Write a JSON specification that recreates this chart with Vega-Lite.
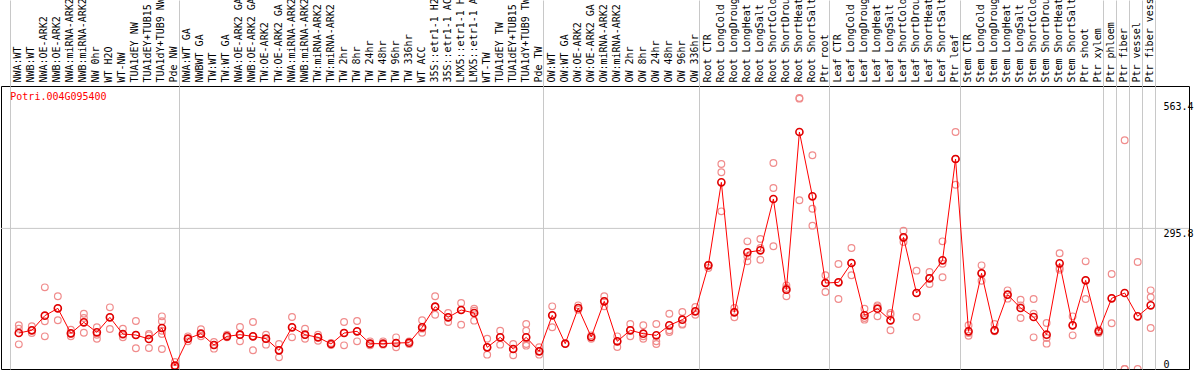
{
  "$schema": "https://vega.github.io/schema/vega-lite/v6.json",
  "width": 1188,
  "height": 283,
  "autosize": {"type": "none"},
  "padding": {"left": 1, "top": 86, "right": 5, "bottom": 1},
  "background": "white",
  "config": {"view": {"stroke": "black", "strokeWidth": 1}},
  "resolve": {"axis": {"x": "independent", "y": "independent"}},
  "datasets": {
    "means": [
      {"s": "NWA:WT", "v": 75.7}, {"s": "NWB:WT", "v": 81.4}, {"s": "NWA:OE-ARK2", "v": 112.2}, {"s": "NWB:OE-ARK2", "v": 127.6},
      {"s": "NWA:miRNA-ARK2", "v": 75.0}, {"s": "NWB:miRNA-ARK2", "v": 98.2}, {"s": "NW 0hr", "v": 77.1}, {"s": "WT H2O", "v": 108.7},
      {"s": "WT-NW", "v": 73.6}, {"s": "TUA1dEY NW", "v": 71.5}, {"s": "TUA1dEY+TUB15 NW", "v": 63.1}, {"s": "TUA1dY+TUB9 NW", "v": 86.3},
      {"s": "Pde NW", "v": 7.0}, {"s": "NWA:WT GA", "v": 63.8}, {"s": "NWBWT GA", "v": 74.3}, {"s": "TW:WT", "v": 50.5},
      {"s": "TW:WT GA", "v": 68.7}, {"s": "NWA:OE-ARK2 GA", "v": 72.2}, {"s": "NWB:OE-ARK2 GA", "v": 68.7}, {"s": "TW:OE-ARK2", "v": 63.8},
      {"s": "TW:OE-ARK2 GA", "v": 39.3}, {"s": "NWA:miRNA-ARK2 GA", "v": 87.7}, {"s": "NWB:miRNA-ARK2 GA", "v": 72.2}, {"s": "TW:miRNA-ARK2", "v": 66.6},
      {"s": "TW:miRNA-ARK2 GA", "v": 52.6}, {"s": "TW 2hr", "v": 75.7}, {"s": "TW 8hr", "v": 79.2}, {"s": "TW 24hr", "v": 53.3},
      {"s": "TW 48hr", "v": 53.3}, {"s": "TW 96hr", "v": 54.7}, {"s": "TW 336hr", "v": 55.4}, {"s": "WT ACC", "v": 87.7},
      {"s": "35S::etr1-1 H2O", "v": 131.1}, {"s": "35S::etr1-1 ACC", "v": 108.7}, {"s": "LMX5::etr1-1 H2O", "v": 124.1}, {"s": "LMX5::etr1-1 ACC", "v": 117.8},
      {"s": "WT-TW", "v": 45.6}, {"s": "TUA1dEY TW", "v": 66.6}, {"s": "TUA1dEY+TUB15 TW", "v": 42.1}, {"s": "TUA1dY+TUB9 TW", "v": 66.6},
      {"s": "Pde TW", "v": 37.2}, {"s": "OW:WT", "v": 112.9}, {"s": "OW:WT GA", "v": 53.3}, {"s": "OW:OE-ARK2", "v": 128.3},
      {"s": "OW:OE-ARK2 GA", "v": 67.3}, {"s": "OW:miRNA-ARK2", "v": 142.4}, {"s": "OW:miRNA-ARK2 GA", "v": 58.2}, {"s": "OW 2hr", "v": 81.4},
      {"s": "OW 8hr", "v": 74.3}, {"s": "OW 24hr", "v": 70.8}, {"s": "OW 48hr", "v": 91.9}, {"s": "OW 96hr", "v": 103.8},
      {"s": "OW 336hr", "v": 121.3}, {"s": "Root CTR", "v": 218.1}, {"s": "Root LongCold", "v": 392.7}, {"s": "Root LongDrought", "v": 119.2},
      {"s": "Root LongHeat", "v": 245.5}, {"s": "Root LongSalt", "v": 249.7}, {"s": "Root ShortCold", "v": 357.7}, {"s": "Root ShortDrought", "v": 166.9},
      {"s": "Root ShortHeat", "v": 498.6}, {"s": "Root ShortSalt", "v": 363.3}, {"s": "Ptr root", "v": 180.9}, {"s": "Leaf CTR", "v": 182.3},
      {"s": "Leaf LongCold", "v": 223.0}, {"s": "Leaf LongDrought", "v": 112.9}, {"s": "Leaf LongHeat", "v": 126.9}, {"s": "Leaf LongSalt", "v": 102.4},
      {"s": "Leaf ShortCold", "v": 277.0}, {"s": "Leaf ShortDrought", "v": 159.9}, {"s": "Leaf ShortHeat", "v": 190.8}, {"s": "Leaf ShortSalt", "v": 228.6},
      {"s": "Ptr leaf", "v": 441.8}, {"s": "Stem CTR", "v": 79.2}, {"s": "Stem LongCold", "v": 201.3}, {"s": "Stem LongDrought", "v": 81.4},
      {"s": "Stem LongHeat", "v": 156.4}, {"s": "Stem LongSalt", "v": 128.3}, {"s": "Stem ShortCold", "v": 109.4}, {"s": "Stem ShortDrought", "v": 72.2},
      {"s": "Stem ShortHeat", "v": 222.3}, {"s": "Stem ShortSalt", "v": 91.9}, {"s": "Ptr shoot", "v": 186.5}, {"s": "Ptr xylem", "v": 79.2},
      {"s": "Ptr phloem", "v": 148.7}, {"s": "Ptr fiber", "v": 159.9}, {"s": "Ptr vessel", "v": 110.8}, {"s": "Ptr fiber vessel", "v": 133.9}
    ],
    "reps": [
      {"s": "NWA:WT", "v": 91.9}, {"s": "NWA:WT", "v": 84.9}, {"s": "NWA:WT", "v": 51.9},
      {"s": "NWB:WT", "v": 89.8}, {"s": "NWB:WT", "v": 75.7}, {"s": "NWB:WT", "v": 81.4},
      {"s": "NWA:OE-ARK2", "v": 171.8}, {"s": "NWA:OE-ARK2", "v": 100.3}, {"s": "NWA:OE-ARK2", "v": 68.7},
      {"s": "NWB:OE-ARK2", "v": 152.9}, {"s": "NWB:OE-ARK2", "v": 127.6}, {"s": "NWB:OE-ARK2", "v": 102.4},
      {"s": "NWA:miRNA-ARK2", "v": 82.8}, {"s": "NWA:miRNA-ARK2", "v": 68.7}, {"s": "NWA:miRNA-ARK2", "v": 74.3},
      {"s": "NWB:miRNA-ARK2", "v": 116.4}, {"s": "NWB:miRNA-ARK2", "v": 107.3}, {"s": "NWB:miRNA-ARK2", "v": 76.4},
      {"s": "NW 0hr", "v": 87.7}, {"s": "NW 0hr", "v": 72.2}, {"s": "NW 0hr", "v": 63.8},
      {"s": "WT H2O", "v": 129.7}, {"s": "WT H2O", "v": 84.2}, {"s": "WT H2O", "v": 108.7},
      {"s": "WT-NW", "v": 84.9}, {"s": "WT-NW", "v": 66.6}, {"s": "WT-NW", "v": 72.2},
      {"s": "TUA1dEY NW", "v": 101.0}, {"s": "TUA1dEY NW", "v": 43.5}, {"s": "TUA1dEY NW", "v": 71.5},
      {"s": "TUA1dEY+TUB15 NW", "v": 73.6}, {"s": "TUA1dEY+TUB15 NW", "v": 70.8}, {"s": "TUA1dEY+TUB15 NW", "v": 44.2},
      {"s": "TUA1dY+TUB9 NW", "v": 110.8}, {"s": "TUA1dY+TUB9 NW", "v": 100.3}, {"s": "TUA1dY+TUB9 NW", "v": 80.6}, {"s": "TUA1dY+TUB9 NW", "v": 73.6}, {"s": "TUA1dY+TUB9 NW", "v": 42.1},
      {"s": "Pde NW", "v": 14.7}, {"s": "Pde NW", "v": 7.0}, {"s": "Pde NW", "v": 2.1},
      {"s": "NWA:WT GA", "v": 68.7}, {"s": "NWA:WT GA", "v": 58.2}, {"s": "NWA:WT GA", "v": 63.8},
      {"s": "NWBWT GA", "v": 83.5}, {"s": "NWBWT GA", "v": 68.7}, {"s": "NWBWT GA", "v": 74.3},
      {"s": "TW:WT", "v": 56.8}, {"s": "TW:WT", "v": 42.8}, {"s": "TW:WT", "v": 50.5},
      {"s": "TW:WT GA", "v": 72.2}, {"s": "TW:WT GA", "v": 66.6},
      {"s": "NWA:OE-ARK2 GA", "v": 88.4}, {"s": "NWA:OE-ARK2 GA", "v": 58.2}, {"s": "NWA:OE-ARK2 GA", "v": 72.2},
      {"s": "NWB:OE-ARK2 GA", "v": 98.9}, {"s": "NWB:OE-ARK2 GA", "v": 39.3}, {"s": "NWB:OE-ARK2 GA", "v": 68.7},
      {"s": "TW:OE-ARK2", "v": 72.2}, {"s": "TW:OE-ARK2", "v": 51.2}, {"s": "TW:OE-ARK2", "v": 63.8},
      {"s": "TW:OE-ARK2 GA", "v": 52.6}, {"s": "TW:OE-ARK2 GA", "v": 24.5}, {"s": "TW:OE-ARK2 GA", "v": 39.3},
      {"s": "NWA:miRNA-ARK2 GA", "v": 109.4}, {"s": "NWA:miRNA-ARK2 GA", "v": 66.6}, {"s": "NWA:miRNA-ARK2 GA", "v": 87.7},
      {"s": "NWB:miRNA-ARK2 GA", "v": 84.9}, {"s": "NWB:miRNA-ARK2 GA", "v": 63.8}, {"s": "NWB:miRNA-ARK2 GA", "v": 72.2},
      {"s": "TW:miRNA-ARK2", "v": 72.2}, {"s": "TW:miRNA-ARK2", "v": 59.6}, {"s": "TW:miRNA-ARK2", "v": 66.6},
      {"s": "TW:miRNA-ARK2 GA", "v": 54.7}, {"s": "TW:miRNA-ARK2 GA", "v": 50.5},
      {"s": "TW 2hr", "v": 98.9}, {"s": "TW 2hr", "v": 49.8}, {"s": "TW 2hr", "v": 75.7},
      {"s": "TW 8hr", "v": 101.0}, {"s": "TW 8hr", "v": 58.2}, {"s": "TW 8hr", "v": 79.2},
      {"s": "TW 24hr", "v": 58.2}, {"s": "TW 24hr", "v": 49.8}, {"s": "TW 24hr", "v": 53.3},
      {"s": "TW 48hr", "v": 58.2}, {"s": "TW 48hr", "v": 51.2},
      {"s": "TW 96hr", "v": 66.6}, {"s": "TW 96hr", "v": 45.6}, {"s": "TW 96hr", "v": 54.7},
      {"s": "TW 336hr", "v": 58.2}, {"s": "TW 336hr", "v": 52.6},
      {"s": "WT ACC", "v": 102.4}, {"s": "WT ACC", "v": 76.4}, {"s": "WT ACC", "v": 84.9},
      {"s": "35S::etr1-1 H2O", "v": 152.9}, {"s": "35S::etr1-1 H2O", "v": 114.3}, {"s": "35S::etr1-1 H2O", "v": 131.1},
      {"s": "35S::etr1-1 ACC", "v": 117.8}, {"s": "35S::etr1-1 ACC", "v": 98.9}, {"s": "35S::etr1-1 ACC", "v": 108.7},
      {"s": "LMX5::etr1-1 H2O", "v": 138.9}, {"s": "LMX5::etr1-1 H2O", "v": 93.3}, {"s": "LMX5::etr1-1 H2O", "v": 124.1},
      {"s": "LMX5::etr1-1 ACC", "v": 126.9}, {"s": "LMX5::etr1-1 ACC", "v": 101.7}, {"s": "LMX5::etr1-1 ACC", "v": 122.7},
      {"s": "WT-TW", "v": 63.8}, {"s": "WT-TW", "v": 30.2}, {"s": "WT-TW", "v": 45.6},
      {"s": "TUA1dEY TW", "v": 80.6}, {"s": "TUA1dEY TW", "v": 51.2}, {"s": "TUA1dEY TW", "v": 66.6},
      {"s": "TUA1dEY+TUB15 TW", "v": 52.6}, {"s": "TUA1dEY+TUB15 TW", "v": 28.8}, {"s": "TUA1dEY+TUB15 TW", "v": 42.1},
      {"s": "TUA1dY+TUB9 TW", "v": 94.7}, {"s": "TUA1dY+TUB9 TW", "v": 80.6}, {"s": "TUA1dY+TUB9 TW", "v": 52.6}, {"s": "TUA1dY+TUB9 TW", "v": 49.1},
      {"s": "Pde TW", "v": 45.6}, {"s": "Pde TW", "v": 30.2}, {"s": "Pde TW", "v": 37.2},
      {"s": "OW:WT", "v": 131.8}, {"s": "OW:WT", "v": 87.7}, {"s": "OW:WT", "v": 112.9},
      {"s": "OW:WT GA", "v": 53.3},
      {"s": "OW:OE-ARK2", "v": 133.9}, {"s": "OW:OE-ARK2", "v": 124.8}, {"s": "OW:OE-ARK2", "v": 128.3},
      {"s": "OW:OE-ARK2 GA", "v": 70.8}, {"s": "OW:OE-ARK2 GA", "v": 63.8},
      {"s": "OW:miRNA-ARK2", "v": 152.9}, {"s": "OW:miRNA-ARK2", "v": 131.8}, {"s": "OW:miRNA-ARK2", "v": 142.4},
      {"s": "OW:miRNA-ARK2 GA", "v": 68.7}, {"s": "OW:miRNA-ARK2 GA", "v": 46.3}, {"s": "OW:miRNA-ARK2 GA", "v": 58.2},
      {"s": "OW 2hr", "v": 94.7}, {"s": "OW 2hr", "v": 68.7}, {"s": "OW 2hr", "v": 81.4},
      {"s": "OW 8hr", "v": 91.9}, {"s": "OW 8hr", "v": 63.8}, {"s": "OW 8hr", "v": 68.7},
      {"s": "OW 24hr", "v": 94.7}, {"s": "OW 24hr", "v": 58.2}, {"s": "OW 24hr", "v": 52.6},
      {"s": "OW 48hr", "v": 116.4}, {"s": "OW 48hr", "v": 81.4}, {"s": "OW 48hr", "v": 77.8},
      {"s": "OW 96hr", "v": 119.9}, {"s": "OW 96hr", "v": 94.7}, {"s": "OW 96hr", "v": 93.3},
      {"s": "OW 336hr", "v": 130.4}, {"s": "OW 336hr", "v": 114.3}, {"s": "OW 336hr", "v": 121.3},
      {"s": "Root CTR", "v": 212.5}, {"s": "Root CTR", "v": 219.5}, {"s": "Root CTR", "v": 218.1},
      {"s": "Root LongCold", "v": 431.3}, {"s": "Root LongCold", "v": 413.8}, {"s": "Root LongCold", "v": 331.7},
      {"s": "Root LongDrought", "v": 128.3}, {"s": "Root LongDrought", "v": 108.7}, {"s": "Root LongDrought", "v": 119.9},
      {"s": "Root LongHeat", "v": 268.6}, {"s": "Root LongHeat", "v": 237.0}, {"s": "Root LongHeat", "v": 226.5},
      {"s": "Root LongSalt", "v": 273.5}, {"s": "Root LongSalt", "v": 254.6}, {"s": "Root LongSalt", "v": 230.0},
      {"s": "Root ShortCold", "v": 433.4}, {"s": "Root ShortCold", "v": 380.8}, {"s": "Root ShortCold", "v": 258.1},
      {"s": "Root ShortDrought", "v": 176.0}, {"s": "Root ShortDrought", "v": 170.4}, {"s": "Root ShortDrought", "v": 152.9},
      {"s": "Root ShortHeat", "v": 570.2}, {"s": "Root ShortHeat", "v": 568.8}, {"s": "Root ShortHeat", "v": 354.9},
      {"s": "Root ShortSalt", "v": 449.6}, {"s": "Root ShortSalt", "v": 337.3}, {"s": "Root ShortSalt", "v": 301.6},
      {"s": "Ptr root", "v": 197.1}, {"s": "Ptr root", "v": 162.0}, {"s": "Ptr root", "v": 180.9},
      {"s": "Leaf CTR", "v": 220.9}, {"s": "Leaf CTR", "v": 147.3}, {"s": "Leaf CTR", "v": 182.3},
      {"s": "Leaf LongCold", "v": 254.6}, {"s": "Leaf LongCold", "v": 197.1}, {"s": "Leaf LongCold", "v": 223.0},
      {"s": "Leaf LongDrought", "v": 126.9}, {"s": "Leaf LongDrought", "v": 103.8}, {"s": "Leaf LongDrought", "v": 107.3},
      {"s": "Leaf LongHeat", "v": 133.9}, {"s": "Leaf LongHeat", "v": 110.8}, {"s": "Leaf LongHeat", "v": 131.8},
      {"s": "Leaf LongSalt", "v": 117.8}, {"s": "Leaf LongSalt", "v": 81.4}, {"s": "Leaf LongSalt", "v": 114.3},
      {"s": "Leaf ShortCold", "v": 291.0}, {"s": "Leaf ShortCold", "v": 267.2}, {"s": "Leaf ShortCold", "v": 275.6},
      {"s": "Leaf ShortDrought", "v": 206.9}, {"s": "Leaf ShortDrought", "v": 109.4}, {"s": "Leaf ShortDrought", "v": 159.9},
      {"s": "Leaf ShortHeat", "v": 204.1}, {"s": "Leaf ShortHeat", "v": 178.8}, {"s": "Leaf ShortHeat", "v": 191.5},
      {"s": "Leaf ShortSalt", "v": 268.6}, {"s": "Leaf ShortSalt", "v": 221.6}, {"s": "Leaf ShortSalt", "v": 192.9},
      {"s": "Ptr leaf", "v": 498.6}, {"s": "Ptr leaf", "v": 387.8}, {"s": "Ptr leaf", "v": 441.8},
      {"s": "Stem CTR", "v": 91.9}, {"s": "Stem CTR", "v": 70.1}, {"s": "Stem CTR", "v": 75.7},
      {"s": "Stem LongCold", "v": 218.1}, {"s": "Stem LongCold", "v": 185.8}, {"s": "Stem LongCold", "v": 201.3},
      {"s": "Stem LongDrought", "v": 94.7}, {"s": "Stem LongDrought", "v": 80.6}, {"s": "Stem LongDrought", "v": 79.2},
      {"s": "Stem LongHeat", "v": 165.5}, {"s": "Stem LongHeat", "v": 148.0}, {"s": "Stem LongHeat", "v": 156.4},
      {"s": "Stem LongSalt", "v": 145.9}, {"s": "Stem LongSalt", "v": 133.9}, {"s": "Stem LongSalt", "v": 107.3},
      {"s": "Stem ShortCold", "v": 147.3}, {"s": "Stem ShortCold", "v": 116.4}, {"s": "Stem ShortCold", "v": 66.6},
      {"s": "Stem ShortDrought", "v": 96.8}, {"s": "Stem ShortDrought", "v": 65.2}, {"s": "Stem ShortDrought", "v": 53.3},
      {"s": "Stem ShortHeat", "v": 243.4}, {"s": "Stem ShortHeat", "v": 212.5}, {"s": "Stem ShortHeat", "v": 209.0},
      {"s": "Stem ShortSalt", "v": 110.8}, {"s": "Stem ShortSalt", "v": 70.8}, {"s": "Stem ShortSalt", "v": 91.9},
      {"s": "Ptr shoot", "v": 226.5}, {"s": "Ptr shoot", "v": 147.3}, {"s": "Ptr shoot", "v": 186.5},
      {"s": "Ptr xylem", "v": 82.8}, {"s": "Ptr xylem", "v": 75.7},
      {"s": "Ptr phloem", "v": 199.9}, {"s": "Ptr phloem", "v": 96.1}, {"s": "Ptr phloem", "v": 148.7},
      {"s": "Ptr fiber", "v": 481.1}, {"s": "Ptr fiber", "v": 0}, {"s": "Ptr fiber", "v": 0},
      {"s": "Ptr vessel", "v": 225.1}, {"s": "Ptr vessel", "v": 0},
      {"s": "Ptr fiber vessel", "v": 165.5}, {"s": "Ptr fiber vessel", "v": 150.8}, {"s": "Ptr fiber vessel", "v": 86.3}
    ]
  },
  "layer": [
    {
      "data": {"values": [{}]},
      "mark": {"type": "rule", "stroke": "#c8c8c8", "strokeWidth": 1},
      "encoding": {"y": {"datum": 295.8, "type": "quantitative", "axis": null}}
    },
    {
      "data": {"name": "reps"},
      "mark": {"type": "point", "shape": "circle", "filled": false, "stroke": "#f08c8c", "strokeWidth": 1.2, "size": 45, "opacity": 1, "xOffset": 2, "clip": true},
      "encoding": {
        "x": {"field": "s", "type": "nominal",
          "scale": {"type": "band", "paddingInner": 0, "paddingOuter": 0, "range": [9.3, 1154.2], "round": false,
            "domain": ["NWA:WT","NWB:WT","NWA:OE-ARK2","NWB:OE-ARK2","NWA:miRNA-ARK2","NWB:miRNA-ARK2","NW 0hr","WT H2O","WT-NW","TUA1dEY NW","TUA1dEY+TUB15 NW","TUA1dY+TUB9 NW","Pde NW","NWA:WT GA","NWBWT GA","TW:WT","TW:WT GA","NWA:OE-ARK2 GA","NWB:OE-ARK2 GA","TW:OE-ARK2","TW:OE-ARK2 GA","NWA:miRNA-ARK2 GA","NWB:miRNA-ARK2 GA","TW:miRNA-ARK2","TW:miRNA-ARK2 GA","TW 2hr","TW 8hr","TW 24hr","TW 48hr","TW 96hr","TW 336hr","WT ACC","35S::etr1-1 H2O","35S::etr1-1 ACC","LMX5::etr1-1 H2O","LMX5::etr1-1 ACC","WT-TW","TUA1dEY TW","TUA1dEY+TUB15 TW","TUA1dY+TUB9 TW","Pde TW","OW:WT","OW:WT GA","OW:OE-ARK2","OW:OE-ARK2 GA","OW:miRNA-ARK2","OW:miRNA-ARK2 GA","OW 2hr","OW 8hr","OW 24hr","OW 48hr","OW 96hr","OW 336hr","Root CTR","Root LongCold","Root LongDrought","Root LongHeat","Root LongSalt","Root ShortCold","Root ShortDrought","Root ShortHeat","Root ShortSalt","Ptr root","Leaf CTR","Leaf LongCold","Leaf LongDrought","Leaf LongHeat","Leaf LongSalt","Leaf ShortCold","Leaf ShortDrought","Leaf ShortHeat","Leaf ShortSalt","Ptr leaf","Stem CTR","Stem LongCold","Stem LongDrought","Stem LongHeat","Stem LongSalt","Stem ShortCold","Stem ShortDrought","Stem ShortHeat","Stem ShortSalt","Ptr shoot","Ptr xylem","Ptr phloem","Ptr fiber","Ptr vessel","Ptr fiber vessel"]},
          "axis": {
            "orient": "top", "title": null, "labelAngle": 270, "labelAlign": "left", "labelBaseline": "middle",
            "labelFont": "DejaVu Sans Mono", "labelFontSize": 10, "labelColor": "black",
            "labelPadding": 4, "labelOffset": 1.5, "labelOverlap": false, "labelLimit": 200,
            "labelExpr": "substring(datum.label, 0, 14)",
            "domain": false, "ticks": false, "tickSize": 0, "grid": false
          }},
        "y": {"field": "v", "type": "quantitative",
          "scale": {"domain": [0, 595.4], "nice": false, "zero": false},
          "axis": {
            "orient": "right", "title": null, "values": [0, 295.8, 563.4], "format": ".1~f",
            "labelFont": "DejaVu Sans Mono", "labelFontSize": 10, "labelColor": "black", "labelAlign": "left",
            "labelBaseline": {"condition": {"test": "datum.value == 0", "value": "bottom"}, "value": "top"},
            "labelFlush": false,
            "labelPadding": -26, "labelOverlap": false,
            "ticks": false, "tickSize": 0, "domain": false, "grid": false
          }}
      }
    },
    {
      "data": {"name": "means"},
      "mark": {"type": "line", "stroke": "#ff0000", "strokeWidth": 1, "xOffset": 2, "clip": true},
      "encoding": {
        "x": {"field": "s", "type": "nominal",
          "axis": {
            "orient": "top", "title": null, "labels": false, "domain": false,
            "values": ["NWA:WT", "NWA:WT GA", "OW:WT", "Root CTR", "Leaf CTR", "Stem CTR", "Ptr phloem", "Ptr fiber", "Ptr vessel", "Ptr fiber vessel"],
            "bandPosition": 0, "ticks": true, "tickSize": 86, "tickColor": "#c8c8c8", "tickWidth": 1,
            "grid": true, "gridColor": "#c8c8c8", "gridWidth": 1
          }},
        "y": {"field": "v", "type": "quantitative", "axis": null}
      }
    },
    {
      "data": {"name": "means"},
      "mark": {"type": "point", "shape": "circle", "filled": false, "stroke": "#e00000", "strokeWidth": 1.6, "size": 50, "opacity": 1, "xOffset": 2, "clip": true},
      "encoding": {
        "x": {"field": "s", "type": "nominal",
          "axis": {
            "orient": "top", "title": null, "labels": false, "domain": false,
            "values": ["Ptr fiber vessel"],
            "bandPosition": 1, "ticks": true, "tickSize": 86, "tickColor": "#c8c8c8", "tickWidth": 1,
            "grid": true, "gridColor": "#c8c8c8", "gridWidth": 1
          }},
        "y": {"field": "v", "type": "quantitative", "axis": null}
      }
    },
    {
      "data": {"name": "means"},
      "transform": [{"filter": "datum.s == 'NWA:WT'"}],
      "mark": {"type": "text", "text": "Potri.004G095400", "font": "DejaVu Sans Mono", "fontSize": 10, "fill": "#ff0000", "align": "left", "baseline": "top"},
      "encoding": {
        "x": {"field": "s", "type": "nominal", "bandPosition": 0, "axis": null},
        "y": {"datum": 582, "type": "quantitative", "axis": null}
      }
    }
  ]
}
